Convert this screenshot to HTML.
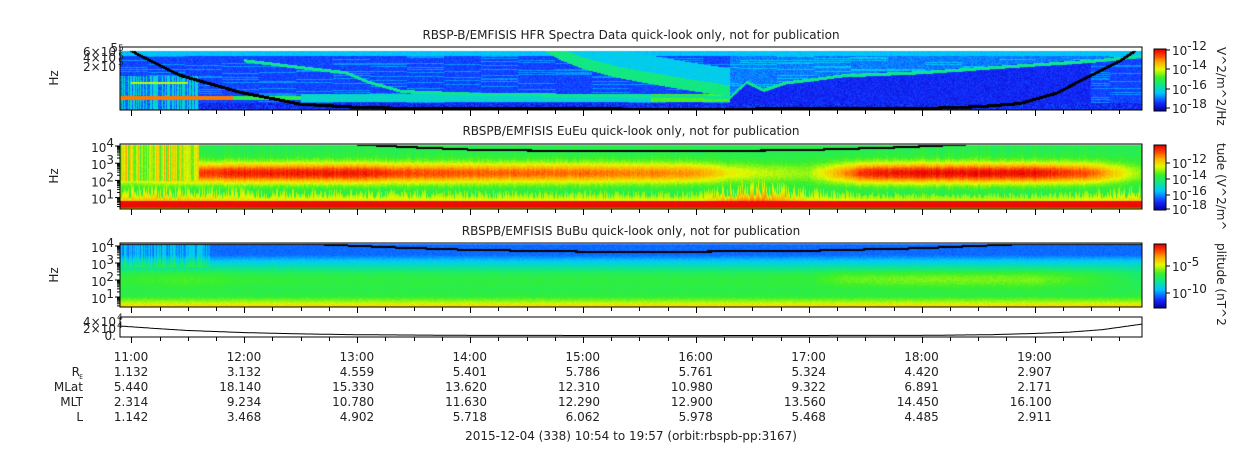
<!DOCTYPE html>
<html><head><meta charset="utf-8">
<style>
html,body{margin:0;padding:0;background:#fff;}
#wrap{position:relative;width:1250px;height:449px;overflow:hidden;font-family:"DejaVu Sans","Liberation Sans",sans-serif;}
canvas{position:absolute;left:0;top:0;}
svg{position:absolute;left:0;top:0;}
text{font-family:"DejaVu Sans","Liberation Sans",sans-serif;font-size:12px;fill:#222;}
</style></head>
<body>
<div id="wrap">
<canvas id="cv" width="1250" height="449"></canvas>
<svg id="sv" width="1250" height="449"></svg>
</div>
<script>
// ---------- data ----------
const tStart = 10.9, tEnd = 19.95;
const hourTicks = [11,12,13,14,15,16,17,18,19];
const hourLabels = ["11:00","12:00","13:00","14:00","15:00","16:00","17:00","18:00","19:00"];
const reVals = ["1.132","3.132","4.559","5.401","5.786","5.761","5.324","4.420","2.907"];
const mlatVals = ["5.440","18.140","15.330","13.620","12.310","10.980","9.322","6.891","2.171"];
const mltVals = ["2.314","9.234","10.780","11.630","12.290","12.900","13.560","14.450","16.100"];
const lVals = ["1.142","3.468","4.902","5.718","6.062","5.978","5.468","4.485","2.911"];

// panel 1 fce line (fraction of panel height)
const fceT = [10.9,11.1,11.43,11.96,12.5,13.0,13.5,16,18.0,18.5,18.87,19.2,19.49,19.75,19.95];
const fceF = [1.05,0.85,0.56,0.29,0.1,0.05,0.03,0.02,0.03,0.06,0.11,0.28,0.55,0.78,1.02];
// panel 1 upper-hybrid line (fraction)
const uhrT = [12.0,12.6,12.9,13.1,13.4,14.0,15.0,16.0,16.3,16.45,16.6,16.8,17.0,17.3,18.0,18.8,19.5,19.95];
const uhrF = [0.79,0.66,0.6,0.45,0.3,0.26,0.24,0.22,0.2,0.45,0.32,0.44,0.48,0.55,0.6,0.7,0.78,0.86];
// panel 1 chorus crescent edge
const plumeT = [14.6,14.8,15.0,15.3,15.6,16.0,16.3];
const plumeF = [1.0,0.8,0.66,0.52,0.42,0.3,0.22];
// panel 2 main band amplitude
const euT = [10.9,11.3,11.6,12.0,13.0,13.5,14.0,15.0,16.0,16.3,16.6,17.0,17.3,17.5,18.0,19.0,19.5,19.95];
const euAmp = [0.3,0.4,0.42,0.46,0.46,0.4,0.38,0.36,0.32,0.2,0.15,0.12,0.32,0.45,0.48,0.48,0.38,0.1];
const euSpike = [0.5,0.6,0.5,0.4,0.35,0.35,0.3,0.3,0.25,0.7,0.8,0.4,0.3,0.25,0.2,0.2,0.3,0.5];
// panel 2/3 fce line (log10 Hz)
const eLineT = [12.9,13.5,14.0,15.0,16.0,17.0,17.8,18.4];
const eLineD = [4.15,3.95,3.82,3.72,3.72,3.8,3.95,4.12];
const bLineT = [12.6,13.3,14.0,15.0,16.0,17.0,18.0,18.8];
const bLineD = [4.15,3.95,3.8,3.7,3.7,3.75,3.9,4.12];
// panel 3 right-side wave band amplitude
const buT = [10.9,11.5,12.0,13.0,15.0,16.0,17.0,17.3,18.0,19.0,19.5,19.95];
const buAmp = [0.05,0.08,0.05,0.04,0.04,0.04,0.05,0.1,0.12,0.12,0.06,0.0];
// panel 4 trace (x10^4)
const p4T = [10.9,11.2,11.5,12.0,12.5,13.0,14.0,16.0,18.0,18.6,19.0,19.3,19.6,19.95];
const p4V = [2.35,1.8,1.3,0.8,0.5,0.3,0.15,0.1,0.15,0.3,0.6,0.9,1.5,2.8];

// ---------- helpers ----------
const X0=120, X1=1142;
function xOf(t){return X0+(t-tStart)*(X1-X0)/(tEnd-tStart);}
function tOf(x){return tStart+(x-X0)*(tEnd-tStart)/(X1-X0);}
function interp(ts,vs,t){
  if(t<=ts[0])return vs[0]; if(t>=ts[ts.length-1])return vs[vs.length-1];
  for(let i=1;i<ts.length;i++){if(t<=ts[i]){const a=(t-ts[i-1])/(ts[i]-ts[i-1]);return vs[i-1]+a*(vs[i]-vs[i-1]);}}
}
function hash(a,b){let h=(a*374761393+b*668265263)|0;h=(h^(h>>>13))*1274126177|0;return ((h^(h>>>16))>>>0)/4294967295;}
const cmap=[[0,[0,0,150]],[0.13,[20,40,255]],[0.3,[0,200,255]],[0.45,[20,235,120]],[0.55,[60,240,40]],[0.68,[230,250,0]],[0.8,[255,170,0]],[0.9,[255,70,0]],[1,[230,0,0]]];
function col(v){v=Math.max(0,Math.min(1,v));for(let i=1;i<cmap.length;i++){if(v<=cmap[i][0]){const a=(v-cmap[i-1][0])/(cmap[i][0]-cmap[i-1][0]);const c0=cmap[i-1][1],c1=cmap[i][1];return [c0[0]+a*(c1[0]-c0[0]),c0[1]+a*(c1[1]-c0[1]),c0[2]+a*(c1[2]-c0[2])];}}return cmap[cmap.length-1][1];}

const cv=document.getElementById('cv'),ctx=cv.getContext('2d');
const img=ctx.createImageData(1250,449);
function put(x,y,c){const i=(y*1250+x)*4;img.data[i]=c[0];img.data[i+1]=c[1];img.data[i+2]=c[2];img.data[i+3]=255;}
for(let i=0;i<img.data.length;i+=4){img.data[i]=img.data[i+1]=img.data[i+2]=img.data[i+3]=255;}

const P1={y0:47,y1:110}, P2={y0:144,y1:209}, P3={y0:243,y1:307}, P4={y0:317,y1:337};
function decP2(y){return 4-(y-146)/17.2;}
function decP3(y){return 4-(y-246)/17;}

for(let x=X0;x<X1;x++){
  const t=tOf(x+0.5);
  const cn=hash(x,7)-0.5;
  const seg=Math.floor(x/37);
  // panel 1
  const fce=interp(fceT,fceF,t), uhr=interp(uhrT,uhrF,t);
  for(let y=P1.y0+4;y<P1.y1;y++){
    const f=(P1.y1-y)/(P1.y1-P1.y0);
    const n=hash(x,y)-0.5;
    const rowv=(hash(y,seg)>0.8)?0.08:0;
    let v=0.16+n*0.06+rowv;
    if(f>0.86) v=0.3+n*0.05;
    if(f<0.12) v=0.12+n*0.14;
    if(t<11.6 && f<0.55){ v=0.2+(hash(x,3)>0.5?0.15:0)+n*0.1; }
    if(Math.abs(f-0.2)<0.03 && t<12.6) v=t<11.9?0.85:0.5;
    if(Math.abs(f-0.44)<0.02 && t>11.0 && t<11.5) v=0.65;
    if(t>12.5 && t<16.3 && Math.abs(f-0.2)<0.06) v=0.36+(t>15.6?0.2:0)+n*0.05;
    if(t>=14.6 && t<=16.3){const e=interp(plumeT,plumeF,t); if(f>e && f<e+0.18) v=0.44+n*0.05; else if(f>=e+0.18 && f<e+0.45) v=0.32+n*0.06;}
    if(t>16.3 && t<19.5 && f<uhr-0.03 && f>0.1) v=0.12+n*0.08;
    if(t>16.3 && f>uhr+0.03 && f<0.86) v=0.22+n*0.08+rowv;
    if(t>=12.0 && Math.abs(f-uhr)<0.025) v=0.42;
    if(Math.abs(f-fce)<0.025) v=-1;
    put(x,y,v<0?[0,0,0]:col(v));
  }
  // panel 2
  const amp=interp(euT,euAmp,t), spk=interp(euT,euSpike,t), eL=interp(eLineT,eLineD,t);
  const spH=1+hash(x,11)*spk*1.6;
  for(let y=P2.y0+1;y<P2.y1;y++){
    const d=decP2(y); const n=hash(x,y+500)-0.5;
    let v=0.5+n*0.05;
    v+=amp*Math.exp(-Math.pow((d-2.45)/0.6,2))+cn*0.1*amp;
    if(t<11.6 && d>2.0) v=0.66+cn*0.3+n*0.05;
    if(d<spH && d>0.8) v=Math.max(v,0.6+spk*0.35*(1-(d-0.8)/(spH-0.8+0.01)));
    if(d<=0.82 && d>0.45) v=0.98;
    if(d<=0.45) v=0.72;
    if(Math.abs(d-eL)<0.06) v=-1;
    put(x,y,v<0?[0,0,0]:col(v));
  }
  // panel 3
  const ba=interp(buT,buAmp,t), bL=interp(bLineT,bLineD,t);
  for(let y=P3.y0+1;y<P3.y1;y++){
    const d=decP3(y); const n=hash(x,y+900)-0.5;
    let v;
    if(d>3.5) v=0.2;
    else if(d>3.0) v=0.2+(3.5-d)/0.5*0.15;
    else if(d>2.5) v=0.35+(3.0-d)/0.5*0.1;
    else if(d>1.0) v=0.46+(2.5-d)/1.5*0.06;
    else if(d>0.6) v=0.55+(1.0-d)/0.4*0.12;
    else v=0.72;
    v+=n*0.04+ba*Math.exp(-Math.pow((d-2.1)/0.5,2));
    if(t<11.7 && d>2.8) v+=hash(x,5)*0.15;
    if(Math.abs(d-bL)<0.06) v=-1;
    put(x,y,v<0?[0,0,0]:col(v));
  }
}
ctx.putImageData(img,0,0);
function cbar(y0,y1){for(let y=y0;y<y1;y++){const c=col(1-(y-y0)/(y1-y0));ctx.fillStyle=`rgb(${c[0]|0},${c[1]|0},${c[2]|0})`;ctx.fillRect(1154,y,12,1);}}
cbar(49,111);cbar(145,210);cbar(244,308);

// ---------- SVG overlay ----------
const NS='http://www.w3.org/2000/svg', sv=document.getElementById('sv');
function el(tag,attrs,txt){const e=document.createElementNS(NS,tag);for(const k in attrs)e.setAttribute(k,attrs[k]);if(txt!==undefined)e.textContent=txt;sv.appendChild(e);return e;}
function frame(p,name){
  const r=el('rect',{x:X0,y:p.y0,width:X1-X0,height:p.y1-p.y0,fill:'none',stroke:'#000','stroke-width':1});
  
  
  for(let q=Math.ceil(tStart*4);q<=Math.floor(tEnd*4);q++){
    const x=Math.round(xOf(q/4))+0.5; const major=q%4===0;
    const tk=el('line',{x1:x,x2:x,y1:p.y1,y2:p.y1+(major?6:4),stroke:'#000'});
    
    
  }
}
frame(P1,'hfr-panel-frame');frame(P2,'eueu-panel-frame');frame(P3,'bubu-panel-frame');frame(P4,'ephemeris-panel-frame');
let pts=[];for(let x=X0;x<=X1;x+=2){const v=interp(p4T,p4V,tOf(x));pts.push(x+','+(336-v/4*17).toFixed(1));}
const tr=el('polyline',{points:pts.join(' '),fill:'none',stroke:'#000','stroke-width':1});



function tt(x,y,s,anchor,name,size){const e=el('text',{x:x,y:y,'text-anchor':anchor||'start'},s);if(size)e.style.fontSize=size+'px';return e;}
function pow10(x,y,exp,name){const e=el('text',{x:x,y:y,'text-anchor':'end'});const a=document.createElementNS(NS,'tspan');a.textContent='10';e.appendChild(a);const b=document.createElementNS(NS,'tspan');b.setAttribute('dy','-5');b.textContent=exp;e.appendChild(b);return e;}
tt(631,39,'RBSP-B/EMFISIS  HFR Spectra Data quick-look only, not for publication','middle','hfr-title');
tt(631,135,'RBSPB/EMFISIS  EuEu quick-look only, not for publication','middle','eueu-title');
tt(631,235,'RBSPB/EMFISIS  BuBu quick-look only, not for publication','middle','bubu-title');
[[58,78],[58,176],[58,275]].forEach((p,i)=>{const e=tt(p[0],p[1],'Hz','middle','y-axis-title');e.setAttribute('transform',`rotate(-90 ${p[0]} ${p[1]})`);});
tt(118,52,'5','end','p1-ytick-label');tt(116,56,'6×10','end','p1-ytick-label');tt(116,62,'4×10','end','p1-ytick-label');tt(116,71,'2×10','end','p1-ytick-label');
[[55,'5'],[63,'5'],[69,'5']].forEach(a=>tt(118,a[0]-4,a[1],'start','p1-ytick-exp',9));
[4,3,2,1].forEach(d=>pow10(114,146+(4-d)*17.2+6,String(d),'eueu-ytick-label'));
[4,3,2,1].forEach(d=>pow10(114,246+(4-d)*17+6,String(d),'bubu-ytick-label'));
for(let d=0;d<=4;d++){for(let m=1;m<10;m++){const dd=d+Math.log10(m);[P2,P3].forEach((pp,k)=>{const y=(k===0?146+(4-dd)*17.2:246+(4-dd)*17);if(y>pp.y0&&y<pp.y1){const e=el('line',{x1:X0-(m===1?5:3),x2:X0,y1:y,y2:y,stroke:'#000'});}});}}
tt(116,326,'4×10','end','p4-ytick-label');tt(116,333,'2×10','end','p4-ytick-label');tt(116,340,'0.','end','p4-ytick-label');
tt(117,320,'4','start','p4-ytick-exp',9);tt(117,328,'4','start','p4-ytick-exp',9);
function cbl(y,exp){const e=el('text',{x:1172,y:y});const a=document.createElementNS(NS,'tspan');a.textContent='10';e.appendChild(a);const b=document.createElementNS(NS,'tspan');b.setAttribute('dy','-5');b.textContent=exp;e.appendChild(b);
 const l=el('line',{x1:1166,x2:1170,y1:y-5,y2:y-5,stroke:'#000'});}
cbl(55,'-12');cbl(74,'-14');cbl(94,'-16');cbl(113,'-18');
cbl(168,'-12');cbl(184,'-14');cbl(200,'-16');cbl(214,'-18');
cbl(271,'-5');cbl(298,'-10');
[[49,111],[145,210],[244,308]].forEach(c=>{const r=el('rect',{x:1154,y:c[0],width:12,height:c[1]-c[0],fill:'none',stroke:'#000'});});
[[1217,47,'V^2/m^2/Hz'],[1217,143,'tude (V^2/m^'],[1217,243,'plitude (nT^2']].forEach(a=>{const e=tt(a[0],a[1],a[2],'start','colorbar-title');e.setAttribute('transform',`rotate(90 ${a[0]} ${a[1]})`);});
hourTicks.forEach((h,i)=>{const x=xOf(h)+17;
 tt(x,361,hourLabels[i],'end','time-label');
 tt(x,376,reVals[i],'end','re-value');
 tt(x,391,mlatVals[i],'end','mlat-value');
 tt(x,406,mltVals[i],'end','mlt-value');
 tt(x,421,lVals[i],'end','l-value');});
tt(80,376,'R','end','re-row-label');tt(83,379,'E','end','re-row-sub',6);
tt(83,391,'MLat','end','mlat-row-label');tt(83,406,'MLT','end','mlt-row-label');tt(83,421,'L','end','l-row-label');
tt(631,440,'2015-12-04 (338) 10:54 to 19:57 (orbit:rbspb-pp:3167)','middle','time-range-caption');
</script>
</body></html>
